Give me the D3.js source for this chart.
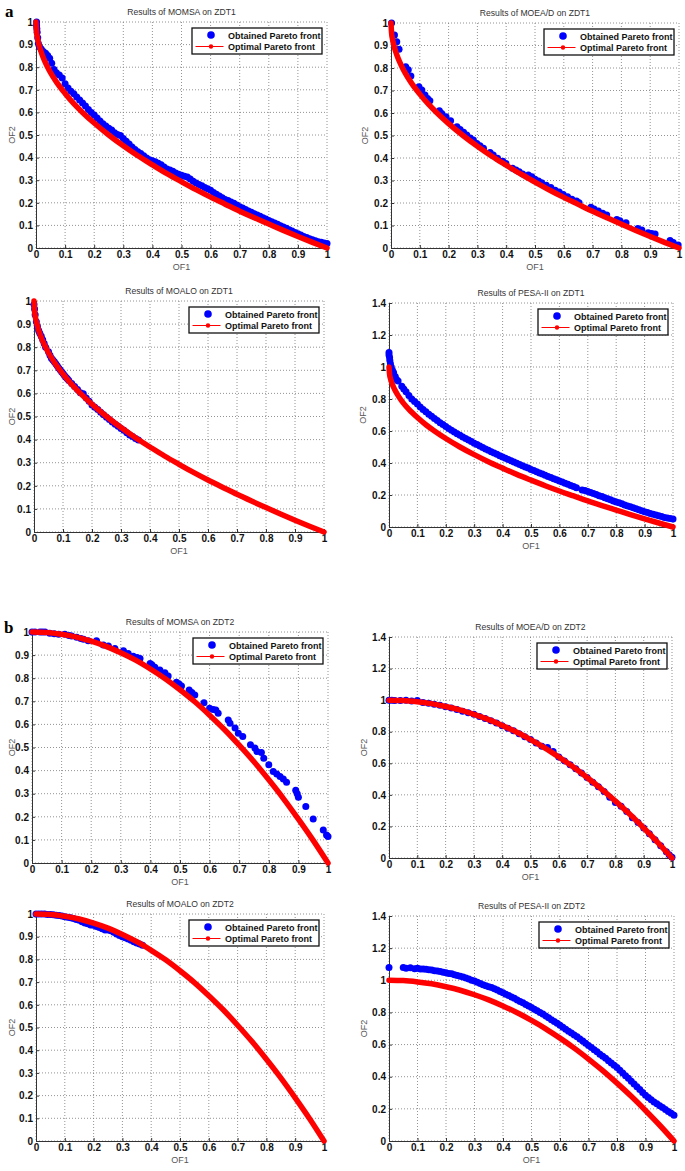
<!DOCTYPE html>
<html><head><meta charset="utf-8">
<script src="https://cdn.jsdelivr.net/npm/d3@7"></script>
<style>body{margin:0;background:#fff}svg{display:block}</style>
</head><body><svg id="c" width="685" height="1171"></svg>
<script>
// ---------- data ----------
const titles = ["Results of MOMSA on ZDT1","Results of MOEA/D on ZDT1","Results of MOALO on ZDT1","Results of PESA-II on ZDT1",
  "Results of MOMSA on ZDT2","Results of MOEA/D on ZDT2","Results of MOALO on ZDT2","Results of PESA-II on ZDT2"];
const yLimits = [1,1,1,1.4,1,1.4,1,1.4];
const xTicks = [0,0.1,0.2,0.3,0.4,0.5,0.6,0.7,0.8,0.9,1];
const yTicksUnit = [0,0.1,0.2,0.3,0.4,0.5,0.6,0.7,0.8,0.9,1];
const yTicksWide = [0,0.2,0.4,0.6,0.8,1,1.2,1.4];
const legendLabels = ["Obtained Pareto front","Optimal Pareto front"];
const panelLetters = ["a","b"];

const zdt1Optimal = [[0,1],[0.002,0.955],[0.005,0.929],[0.01,0.9],[0.02,0.859],[0.03,0.827],[0.04,0.8],[0.05,0.776],[0.07,0.735],[0.1,0.684],[0.13,0.639],[0.16,0.6],[0.2,0.553],[0.25,0.5],[0.3,0.452],[0.35,0.408],[0.4,0.368],[0.45,0.329],[0.5,0.293],[0.55,0.258],[0.6,0.225],[0.65,0.194],[0.7,0.163],[0.75,0.134],[0.8,0.106],[0.85,0.078],[0.9,0.051],[0.95,0.025],[1,0]];
const zdt2Optimal = [[0,1],[0.05,0.998],[0.1,0.99],[0.15,0.978],[0.2,0.96],[0.25,0.938],[0.3,0.91],[0.35,0.878],[0.4,0.84],[0.45,0.798],[0.5,0.75],[0.55,0.698],[0.6,0.64],[0.65,0.578],[0.7,0.51],[0.75,0.438],[0.8,0.36],[0.85,0.278],[0.9,0.19],[0.95,0.098],[1,0]];

const momsaZdt1 = [[0.002,1.0],[0.002,0.985],[0.003,0.97],[0.004,0.955],[0.006,0.93],[0.008,0.905],[0.012,0.89],[0.018,0.88],[0.025,0.87],[0.033,0.862],[0.04,0.852],[0.047,0.84],[0.054,0.818],[0.062,0.79],[0.07,0.775],[0.08,0.765],[0.09,0.752],[0.1,0.727],[0.11,0.708],[0.12,0.694],[0.13,0.682],[0.14,0.668],[0.15,0.655],[0.16,0.642],[0.17,0.628],[0.18,0.613],[0.19,0.6],[0.2,0.588],[0.21,0.575],[0.22,0.562],[0.23,0.55],[0.24,0.54],[0.25,0.53],[0.26,0.522],[0.27,0.51],[0.28,0.502],[0.29,0.498],[0.3,0.484],[0.31,0.472],[0.32,0.46],[0.33,0.447],[0.34,0.436],[0.35,0.426],[0.36,0.418],[0.37,0.408],[0.38,0.398],[0.39,0.39],[0.4,0.386],[0.41,0.382],[0.42,0.375],[0.43,0.368],[0.44,0.358],[0.45,0.35],[0.46,0.345],[0.47,0.34],[0.48,0.332],[0.49,0.326],[0.5,0.322],[0.51,0.318],[0.52,0.314],[0.53,0.305],[0.54,0.295],[0.55,0.288],[0.56,0.281],[0.57,0.275],[0.58,0.268],[0.59,0.262],[0.6,0.256],[0.61,0.246],[0.62,0.238],[0.63,0.23],[0.64,0.222],[0.65,0.215],[0.66,0.21],[0.67,0.204],[0.68,0.198],[0.69,0.19],[0.7,0.183],[0.71,0.177],[0.72,0.17],[0.73,0.164],[0.74,0.158],[0.75,0.152],[0.76,0.146],[0.77,0.14],[0.78,0.134],[0.79,0.128],[0.8,0.122],[0.81,0.116],[0.82,0.111],[0.83,0.105],[0.84,0.099],[0.85,0.093],[0.86,0.087],[0.87,0.081],[0.88,0.075],[0.89,0.069],[0.9,0.063],[0.91,0.057],[0.92,0.051],[0.93,0.046],[0.94,0.041],[0.95,0.036],[0.96,0.032],[0.97,0.028],[0.98,0.025],[0.99,0.022],[1.0,0.02]];

const moeadZdt1 = [[0.002,1.0],[0.012,0.947],[0.02,0.917],[0.028,0.883],[0.051,0.806],[0.06,0.792],[0.069,0.764],[0.097,0.717],[0.107,0.702],[0.118,0.68],[0.127,0.665],[0.135,0.655],[0.168,0.61],[0.176,0.598],[0.191,0.583],[0.207,0.566],[0.229,0.539],[0.24,0.527],[0.252,0.514],[0.263,0.502],[0.275,0.489],[0.286,0.48],[0.298,0.465],[0.309,0.454],[0.321,0.443],[0.344,0.424],[0.355,0.413],[0.37,0.399],[0.388,0.386],[0.399,0.376],[0.422,0.354],[0.434,0.347],[0.445,0.339],[0.457,0.329],[0.477,0.324],[0.489,0.317],[0.5,0.306],[0.512,0.298],[0.523,0.29],[0.539,0.279],[0.555,0.269],[0.57,0.257],[0.584,0.249],[0.598,0.238],[0.613,0.228],[0.628,0.217],[0.644,0.209],[0.653,0.201],[0.694,0.181],[0.705,0.173],[0.72,0.164],[0.735,0.155],[0.749,0.147],[0.784,0.127],[0.795,0.121],[0.816,0.112],[0.857,0.087],[0.871,0.08],[0.893,0.068],[0.905,0.065],[0.917,0.062],[0.969,0.033],[0.98,0.025],[0.997,0.013]];

const moaloZdt1 = [[0.0,0.985],[0.002,0.965],[0.004,0.94],[0.008,0.91],[0.012,0.89],[0.016,0.872],[0.02,0.86],[0.025,0.847],[0.03,0.832],[0.035,0.816],[0.04,0.8],[0.05,0.78],[0.055,0.765],[0.06,0.752],[0.065,0.745],[0.07,0.737],[0.075,0.728],[0.08,0.72],[0.085,0.71],[0.09,0.702],[0.095,0.694],[0.1,0.686],[0.105,0.677],[0.11,0.67],[0.115,0.663],[0.12,0.656],[0.13,0.643],[0.14,0.63],[0.15,0.617],[0.16,0.603],[0.17,0.598],[0.18,0.58],[0.19,0.566],[0.2,0.55],[0.21,0.54],[0.22,0.53],[0.23,0.518],[0.24,0.508],[0.25,0.497],[0.26,0.487],[0.27,0.476],[0.28,0.466],[0.29,0.458],[0.3,0.448],[0.31,0.44],[0.32,0.43],[0.33,0.42],[0.34,0.413],[0.35,0.405],[0.36,0.398]];

const pesaZdt1 = [[0,1.09],[0,1.075],[0.002,1.06],[0.003,1.04],[0.005,1.02],[0.008,1.0],[0.012,0.98],[0.016,0.965],[0.022,0.94],[0.027,0.92],[0.032,0.912],[0.045,0.88],[0.052,0.862],[0.06,0.845],[0.07,0.822],[0.08,0.8],[0.09,0.785],[0.1,0.768],[0.11,0.75],[0.12,0.735],[0.13,0.72],[0.14,0.705],[0.15,0.692],[0.16,0.678],[0.17,0.665],[0.18,0.652],[0.19,0.64],[0.2,0.628],[0.21,0.616],[0.22,0.605],[0.23,0.594],[0.24,0.583],[0.25,0.573],[0.26,0.563],[0.27,0.553],[0.28,0.543],[0.29,0.534],[0.3,0.524],[0.31,0.515],[0.32,0.506],[0.33,0.497],[0.34,0.488],[0.35,0.48],[0.36,0.471],[0.37,0.463],[0.38,0.455],[0.39,0.446],[0.4,0.438],[0.41,0.43],[0.42,0.422],[0.43,0.414],[0.44,0.406],[0.45,0.398],[0.46,0.391],[0.47,0.383],[0.48,0.375],[0.49,0.368],[0.5,0.36],[0.51,0.353],[0.52,0.345],[0.53,0.338],[0.54,0.331],[0.55,0.323],[0.56,0.316],[0.57,0.309],[0.58,0.302],[0.59,0.295],[0.6,0.288],[0.61,0.281],[0.62,0.274],[0.63,0.267],[0.64,0.26],[0.65,0.253],[0.66,0.246],[0.68,0.232],[0.69,0.228],[0.7,0.222],[0.71,0.216],[0.72,0.21],[0.73,0.203],[0.74,0.196],[0.75,0.19],[0.76,0.183],[0.77,0.176],[0.78,0.17],[0.79,0.163],[0.8,0.157],[0.81,0.151],[0.82,0.145],[0.83,0.138],[0.84,0.132],[0.85,0.126],[0.86,0.12],[0.87,0.114],[0.88,0.108],[0.89,0.102],[0.9,0.096],[0.91,0.091],[0.92,0.085],[0.93,0.08],[0.94,0.075],[0.95,0.07],[0.96,0.065],[0.97,0.06],[0.98,0.056],[0.99,0.053],[1.0,0.05]];

const momsaZdt2 = [[0,1.0],[0.01,1.0],[0.027,1.0],[0.035,1.0],[0.044,1.0],[0.06,0.995],[0.075,0.992],[0.09,0.99],[0.111,0.99],[0.125,0.985],[0.134,0.983],[0.151,0.977],[0.165,0.972],[0.174,0.969],[0.19,0.962],[0.218,0.962],[0.241,0.944],[0.258,0.939],[0.28,0.929],[0.309,0.919],[0.325,0.907],[0.342,0.895],[0.355,0.89],[0.365,0.885],[0.399,0.864],[0.405,0.858],[0.415,0.847],[0.432,0.836],[0.449,0.824],[0.46,0.81],[0.488,0.782],[0.497,0.775],[0.505,0.766],[0.531,0.749],[0.54,0.738],[0.55,0.727],[0.581,0.694],[0.6,0.67],[0.612,0.665],[0.621,0.662],[0.629,0.648],[0.663,0.619],[0.669,0.605],[0.686,0.584],[0.697,0.562],[0.712,0.548],[0.738,0.512],[0.753,0.498],[0.76,0.483],[0.775,0.478],[0.783,0.454],[0.8,0.425],[0.815,0.396],[0.827,0.385],[0.838,0.374],[0.849,0.364],[0.86,0.35],[0.891,0.315],[0.896,0.3],[0.9,0.285],[0.925,0.245],[0.95,0.19],[0.984,0.143],[0.995,0.121],[1.0,0.115]];

const moeadZdt2 = [[0,1.0],[0.01,1.0],[0.02,0.998],[0.04,0.997],[0.06,1.0],[0.08,0.994],[0.1,0.998],[0.12,0.985],[0.14,0.98],[0.16,0.974],[0.18,0.967],[0.2,0.958],[0.22,0.95],[0.24,0.94],[0.26,0.93],[0.28,0.92],[0.3,0.91],[0.32,0.897],[0.34,0.884],[0.36,0.87],[0.38,0.855],[0.4,0.838],[0.42,0.822],[0.44,0.806],[0.46,0.787],[0.48,0.768],[0.5,0.75],[0.52,0.728],[0.54,0.708],[0.56,0.7],[0.58,0.675],[0.6,0.64],[0.62,0.615],[0.64,0.59],[0.66,0.565],[0.68,0.538],[0.7,0.51],[0.72,0.48],[0.74,0.452],[0.76,0.422],[0.78,0.385],[0.8,0.352],[0.82,0.328],[0.84,0.294],[0.86,0.255],[0.88,0.225],[0.9,0.19],[0.92,0.153],[0.94,0.116],[0.96,0.078],[0.98,0.04],[0.99,0.02],[1.0,0.005]];

const moaloZdt2 = [[0,1.0],[0.01,1.0],[0.02,1.0],[0.03,1.0],[0.04,0.998],[0.05,0.998],[0.06,0.997],[0.07,0.995],[0.08,0.993],[0.09,0.991],[0.1,0.988],[0.11,0.986],[0.12,0.983],[0.13,0.98],[0.14,0.976],[0.15,0.972],[0.16,0.966],[0.17,0.96],[0.18,0.957],[0.19,0.952],[0.2,0.95],[0.21,0.945],[0.22,0.94],[0.23,0.935],[0.24,0.93],[0.25,0.93],[0.26,0.926],[0.27,0.92],[0.28,0.912],[0.29,0.905],[0.3,0.9],[0.31,0.895],[0.32,0.89],[0.33,0.884],[0.34,0.878],[0.35,0.872],[0.36,0.868],[0.37,0.862]];

const pesaZdt2 = [[0,1.08],[0.05,1.08],[0.06,1.075],[0.075,1.078],[0.09,1.072],[0.1,1.075],[0.11,1.07],[0.12,1.07],[0.13,1.068],[0.14,1.066],[0.15,1.064],[0.16,1.06],[0.17,1.058],[0.18,1.055],[0.19,1.05],[0.2,1.047],[0.21,1.043],[0.22,1.04],[0.23,1.035],[0.24,1.03],[0.25,1.025],[0.26,1.02],[0.27,1.015],[0.28,1.008],[0.29,1.0],[0.3,0.995],[0.31,0.988],[0.32,0.98],[0.33,0.973],[0.34,0.966],[0.35,0.96],[0.36,0.955],[0.37,0.948],[0.38,0.94],[0.39,0.93],[0.4,0.922],[0.41,0.913],[0.42,0.905],[0.43,0.896],[0.44,0.888],[0.45,0.878],[0.46,0.868],[0.47,0.86],[0.48,0.85],[0.49,0.84],[0.5,0.83],[0.51,0.82],[0.52,0.81],[0.53,0.8],[0.54,0.79],[0.55,0.778],[0.56,0.767],[0.57,0.755],[0.58,0.743],[0.59,0.732],[0.6,0.72],[0.61,0.708],[0.62,0.695],[0.63,0.683],[0.64,0.672],[0.65,0.66],[0.66,0.648],[0.67,0.635],[0.68,0.622],[0.69,0.608],[0.7,0.595],[0.71,0.582],[0.72,0.568],[0.73,0.555],[0.74,0.54],[0.75,0.527],[0.76,0.515],[0.77,0.5],[0.78,0.486],[0.79,0.472],[0.8,0.457],[0.81,0.44],[0.82,0.423],[0.83,0.406],[0.84,0.39],[0.85,0.372],[0.86,0.355],[0.87,0.338],[0.88,0.32],[0.89,0.302],[0.9,0.285],[0.91,0.27],[0.92,0.256],[0.93,0.243],[0.94,0.232],[0.95,0.22],[0.96,0.208],[0.97,0.196],[0.98,0.184],[0.99,0.172],[1.0,0.16]];

const obtainedSeries = [momsaZdt1, moeadZdt1, moaloZdt1, pesaZdt1, momsaZdt2, moeadZdt2, moaloZdt2, pesaZdt2];
const optimalSeries = [zdt1Optimal, zdt1Optimal, zdt1Optimal, zdt1Optimal, zdt2Optimal, zdt2Optimal, zdt2Optimal, zdt2Optimal];

// ---------- layout ----------
const boxes = [
  {l:36,r:327,t:22,b:248,ylab:12},
  {l:391,r:679,t:23,b:248,ylab:365},
  {l:34,r:324,t:301,b:532,ylab:12},
  {l:389,r:673,t:303,b:527,ylab:363},
  {l:32,r:328,t:632,b:863,ylab:12},
  {l:389,r:672,t:637,b:858,ylab:364},
  {l:36,r:324,t:914,b:1141,ylab:12},
  {l:389,r:674,t:916,b:1141,ylab:364}
];
const letterPos = [{x:5,y:17},{x:4,y:633}];

const svg = d3.select("#c");
const BLUE = "#0000ff", RED = "#ff0000";
const sans = "'Liberation Sans', Arial, sans-serif";

boxes.forEach((bx, i) => {
  const x = d3.scaleLinear().domain([0,1]).range([bx.l, bx.r]);
  const y = d3.scaleLinear().domain([0, yLimits[i]]).range([bx.b, bx.t]);
  const yT = yLimits[i] > 1 ? yTicksWide : yTicksUnit;
  const g = svg.append("g");

  // grid
  g.append("g").selectAll("line").data(xTicks).join("line")
    .attr("x1", d => x(d)).attr("x2", d => x(d)).attr("y1", bx.t).attr("y2", bx.b)
    .attr("stroke", "#777").attr("stroke-width", 0.8).attr("stroke-dasharray", "1,2");
  g.append("g").selectAll("line").data(yT).join("line")
    .attr("y1", d => y(d)).attr("y2", d => y(d)).attr("x1", bx.l).attr("x2", bx.r)
    .attr("stroke", "#777").attr("stroke-width", 0.8).attr("stroke-dasharray", "1,2");

  // axes
  const ax = g.append("g").attr("transform", `translate(0,${bx.b})`)
    .call(d3.axisBottom(x).tickValues(xTicks).tickFormat(d => String(d)).tickSizeInner(-3).tickSizeOuter(0).tickPadding(3));
  const ay = g.append("g").attr("transform", `translate(${bx.l},0)`)
    .call(d3.axisLeft(y).tickValues(yT).tickFormat(d => String(d)).tickSizeInner(-3).tickSizeOuter(0).tickPadding(3));
  [ax, ay].forEach(a => {
    a.select(".domain").attr("stroke", "#333").attr("stroke-width", 1);
    a.selectAll(".tick line").attr("stroke", "#333");
    a.selectAll("text").attr("font-family", sans).attr("font-weight", "bold").attr("font-size", 10).attr("fill", "#111");
  });

  // obtained front
  g.append("g").selectAll("circle").data(obtainedSeries[i]).join("circle")
    .attr("cx", d => x(d[0])).attr("cy", d => y(d[1])).attr("r", 3.5).attr("fill", BLUE);

  // optimal front
  const line = d3.line().x(d => x(d[0])).y(d => y(d[1])).curve(d3.curveMonotoneX);
  g.append("path").datum(optimalSeries[i]).attr("d", line)
    .attr("fill", "none").attr("stroke", RED).attr("stroke-width", 5.5).attr("stroke-linecap", "round").attr("stroke-linejoin", "round");

  // title and labels
  g.append("text").attr("x", (bx.l + bx.r) / 2).attr("y", bx.t - 7).attr("text-anchor", "middle")
    .attr("font-family", sans).attr("font-size", 8.6).attr("fill", "#333").text(titles[i]);
  g.append("text").attr("x", (bx.l + bx.r) / 2).attr("y", bx.b + 22).attr("text-anchor", "middle")
    .attr("font-family", sans).attr("font-size", 9).attr("fill", "#555").text("OF1");
  g.append("text").attr("transform", `translate(${bx.ylab + 3},${(bx.t + bx.b) / 2}) rotate(-90)`).attr("text-anchor", "middle")
    .attr("font-family", sans).attr("font-size", 9).attr("fill", "#555").text("OF2");

  // legend
  const lw = 130, lh = 26, lx = bx.r - 5 - lw, ly = bx.t + 6;
  const lg = g.append("g").attr("transform", `translate(${lx},${ly})`);
  lg.append("rect").attr("width", lw).attr("height", lh).attr("fill", "#fff").attr("stroke", "#111").attr("stroke-width", 1.3);
  lg.append("circle").attr("cx", 19).attr("cy", 7).attr("r", 3.8).attr("fill", BLUE);
  lg.append("line").attr("x1", 3.5).attr("x2", 31.5).attr("y1", 18.5).attr("y2", 18.5).attr("stroke", RED).attr("stroke-width", 1);
  lg.append("circle").attr("cx", 19).attr("cy", 18.5).attr("r", 2.2).attr("fill", RED);
  lg.selectAll("text.lt").data(legendLabels).join("text").attr("class", "lt")
    .attr("x", 36).attr("y", (d, k) => 10.5 + k * 11.5)
    .attr("font-family", sans).attr("font-weight", "bold").attr("font-size", 9).attr("fill", "#111").text(d => d);
});

svg.selectAll("text.letter").data(panelLetters).join("text").attr("class", "letter")
  .attr("x", (d, k) => letterPos[k].x).attr("y", (d, k) => letterPos[k].y)
  .attr("font-family", "'Liberation Serif', 'Times New Roman', serif").attr("font-weight", "bold").attr("font-size", 17).attr("fill", "#000").text(d => d);
</script>
</body></html>
